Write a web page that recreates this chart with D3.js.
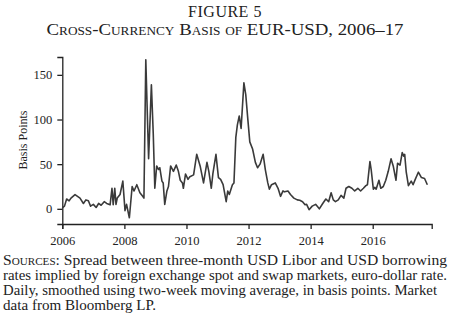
<!DOCTYPE html>
<html><head><meta charset="utf-8">
<script src="https://cdn.jsdelivr.net/npm/d3@7"></script>
<style>
body{margin:0;background:#fff;}
svg{display:block;}
text{font-family:"Liberation Serif","DejaVu Serif",serif;fill:#222;}
</style></head>
<body><svg id="c" width="450" height="326"></svg>
<script>
const titleLine1 = "FIGURE 5";
const titleLine2 = "Cross-Currency Basis of EUR-USD, 2006–17";
const yLabel = "Basis Points";
const xTicks = [2006, 2008, 2010, 2012, 2014, 2016];
const yTicks = [0, 50, 100, 150];
const dates = [2006.0,2006.07,2006.14,2006.22,2006.28,2006.41,2006.57,2006.68,2006.76,2006.84,2006.91,2007.0,2007.09,2007.17,2007.25,2007.35,2007.43,2007.54,2007.6,2007.64,2007.69,2007.73,2007.77,2007.86,2007.95,2008.02,2008.07,2008.16,2008.25,2008.31,2008.4,2008.5,2008.59,2008.63,2008.69,2008.78,2008.87,2008.93,2008.98,2009.04,2009.1,2009.14,2009.21,2009.25,2009.3,2009.37,2009.42,2009.49,2009.58,2009.67,2009.74,2009.8,2009.87,2009.9,2009.97,2010.05,2010.11,2010.23,2010.33,2010.44,2010.55,2010.66,2010.72,2010.8,2010.85,2010.95,2011.03,2011.1,2011.18,2011.28,2011.33,2011.38,2011.48,2011.53,2011.59,2011.64,2011.70,2011.76,2011.85,2011.91,2011.97,2012.04,2012.13,2012.22,2012.29,2012.37,2012.47,2012.54,2012.62,2012.67,2012.74,2012.86,2012.95,2013.03,2013.11,2013.16,2013.27,2013.35,2013.46,2013.57,2013.65,2013.74,2013.82,2013.87,2013.95,2014.05,2014.16,2014.28,2014.39,2014.49,2014.58,2014.66,2014.73,2014.8,2014.89,2014.98,2015.07,2015.14,2015.23,2015.33,2015.42,2015.52,2015.61,2015.7,2015.78,2015.83,2015.91,2015.95,2016.02,2016.07,2016.11,2016.2,2016.26,2016.34,2016.42,2016.5,2016.59,2016.66,2016.75,2016.8,2016.88,2016.95,2017.0,2017.03,2017.08,2017.15,2017.24,2017.3,2017.37,2017.47,2017.57,2017.67,2017.76];
const values = [1,3,11,9,12,16,12,6,10,9,3,5,1.5,6,4,8,6,4.5,23,4.5,23,5,12,16,31,-2,5,-10,25,20,27,18,14,12,167,56,139,84,23,48,44,46,31,29,5,20,25,48,42,49,42,32,29,23,39,33,36,38,61,48,29,52,42,23,39,61,35,33,27,8,20,16,27,29,80,94,104,90,141,128,103,75,67,52,46,50,61,44,29,22,27,29,23,14,20,19,20,16,12,10,9.5,8,4.5,5,-1,3,5,0,6,11,8,18,10,8,10,15,12,23,25,23,20,23,20,23,26,27,53,44,22,24,22,32,23,25,32,42,56,48,32,51,49,63,59,61,41,26,31,27,33,41,35,34,27];
const sourceLines = [
  "Spread between three-month USD Libor and USD borrowing",
  "rates implied by foreign exchange spot and swap markets, euro-dollar rate.",
  "Daily, smoothed using two-week moving average, in basis points. Market",
  "data from Bloomberg LP."
];

const svg = d3.select("#c");
const x = d3.scaleLinear().domain([2006, 2017.9]).range([62.3, 431.7]);
const y = d3.scaleLinear().domain([-17, 170]).range([224, 57]);

svg.append("text").attr("x", 225).attr("y", 17).attr("text-anchor", "middle")
  .style("font-size", "16px").style("letter-spacing", "0.5px").text(titleLine1);
svg.append("text").attr("x", 225).attr("y", 35).attr("text-anchor", "middle")
  .style("font-size", "17px").style("font-variant", "small-caps")
  .attr("textLength", 357).attr("lengthAdjust", "spacingAndGlyphs").text(titleLine2);

const xAxis = svg.append("g").attr("transform", "translate(0,224)")
  .call(d3.axisBottom(x).tickValues(xTicks).tickFormat(d3.format("d")).tickSizeOuter(0).tickSize(5).tickPadding(7));
const yAxis = svg.append("g").attr("transform", "translate(62.3,0)")
  .call(d3.axisLeft(y).tickValues(yTicks).tickSizeOuter(0).tickSize(5).tickPadding(5));
[xAxis, yAxis].forEach(g => {
  g.selectAll("path, line").attr("stroke", "#222").attr("stroke-width", 1.3);
  g.selectAll("text").style("font-family", '"Liberation Serif", serif').style("font-size", "12.5px").attr("fill", "#222");
});

svg.append("text").attr("transform", "translate(27,140) rotate(-90)")
  .attr("text-anchor", "middle").style("font-size", "12px").text(yLabel);

const line = d3.line().x((d, i) => x(dates[i])).y(d => y(d));
svg.append("path").datum(values).attr("d", line)
  .attr("fill", "none").attr("stroke", "#3a3a3a").attr("stroke-width", 1.6)
  .attr("stroke-linejoin", "round");

const src = svg.append("text").attr("x", 3).attr("y", 265).style("font-size", "14px");
src.append("tspan").style("font-variant", "small-caps").text("Sources:");
src.append("tspan").text(" " + sourceLines[0]);
const widths = [444, 444, 434, 153];
sourceLines.slice(1).forEach((t, i) => {
  const tt = svg.append("text").attr("x", 3).attr("y", 280 + i * 15).style("font-size", "14px").text(t);
  if (widths[i + 1]) tt.attr("textLength", widths[i + 1]).attr("lengthAdjust", "spacingAndGlyphs");
});
src.attr("textLength", widths[0]).attr("lengthAdjust", "spacingAndGlyphs");
</script></body></html>
